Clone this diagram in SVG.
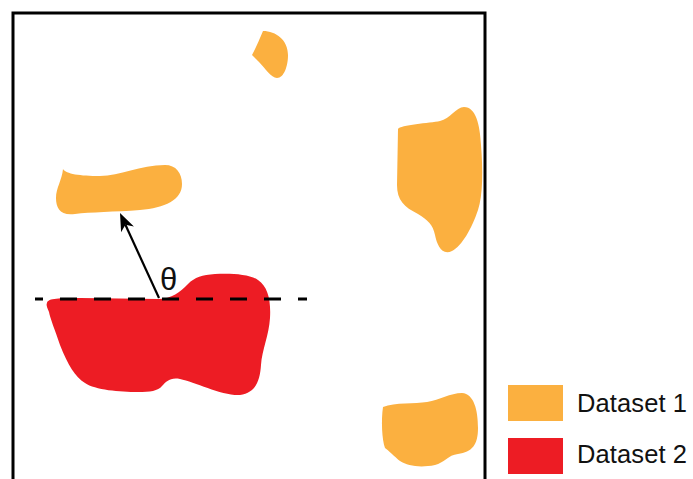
<svg xmlns="http://www.w3.org/2000/svg" width="693" height="479" viewBox="0 0 693 479">
<style>
.d1{fill:#FBB040;}
.d2{fill:#ED1C24;}
.lbl{font-family:"Liberation Sans",Arial,sans-serif;font-size:25.5px;fill:#111;}
.frame{fill:none;stroke:#000;stroke-width:3;}
</style>
<rect width="693" height="479" fill="#fff"/>
<path id="frame" class="frame" d="M13,481 V13 H485 V481"/>
<g id="blob-top" class="d1"><path d="M263,31 C276,31 288,40 288,55 C288,66 284,78 277,78 C271,78 265,68 259,62 L252,55 C256,48 259,40 263,31 Z"/></g>
<g id="blob-left" class="d1"><path d="M63,169 C66,174 80,176 100,176 C120,176 140,165 165,165 C176,165 182,173 182,184 C182,200 165,208 140,210 C115,212 90,212 75,214 C60,216 56,208 56,198 C56,188 62,180 63,169 Z"/></g>
<g id="blob-right" class="d1"><path d="M398,129 C400,125 430,123 440,121 C450,119 456,107 464,107 C476,107 480,125 481,145 C483,170 483,195 478,210 C472,228 462,246 452,251 C442,256 437,245 435,235 C433,225 428,220 418,214 C404,207 397,200 397,185 Z"/></g>
<g id="blob-bottom" class="d1"><path d="M383,407 C395,402 415,404 427,402 C440,400 450,393 462,393 C474,394 478,410 478,428 C478,445 472,452 458,454 C448,455 444,463 435,465 C420,468 408,466 400,461 C395,457 388,450 385,448 C382,440 381,420 383,407 Z"/></g>
<g id="blob-red" class="d2"><path d="M47,303 C48,298 60,298 80,298 L158,299 C172,299 180,292 188,284 C195,277 202,275 215,274 C230,273 250,274 258,280 C268,287 271,300 270,318 C269,335 262,350 261,365 C260,380 256,393 240,395 C222,396 195,382 180,379 C170,377 166,382 162,386 C158,391 150,392 138,392 C120,392 95,390 85,383 C75,377 68,365 60,345 C55,330 50,318 49,312 C47,307 46,305 47,303 Z"/></g>
<g id="baseline"><line x1="35" y1="299" x2="307" y2="299" stroke="#000" stroke-width="3" stroke-dasharray="17 17" stroke-dashoffset="9"/></g>
<g id="connectors">
<line x1="159" y1="298" x2="125.4" y2="224.8" stroke="#000" stroke-width="2.2"/>
<path d="M120,213 L133.9,226.5 L125.4,224.8 L121.1,232.3 Z" fill="#000"/>
</g>
<g id="angle"><text x="160" y="290" font-family="Liberation Sans,Arial,sans-serif" font-size="31" fill="#111">θ</text></g>
<g id="legend-1"><rect x="508" y="385" width="55" height="36" class="d1"/><text x="577" y="412" class="lbl" textLength="110">Dataset 1</text></g>
<g id="legend-2"><rect x="508" y="438" width="55" height="36" class="d2"/><text x="577" y="463" class="lbl" textLength="110">Dataset 2</text></g>
</svg>
